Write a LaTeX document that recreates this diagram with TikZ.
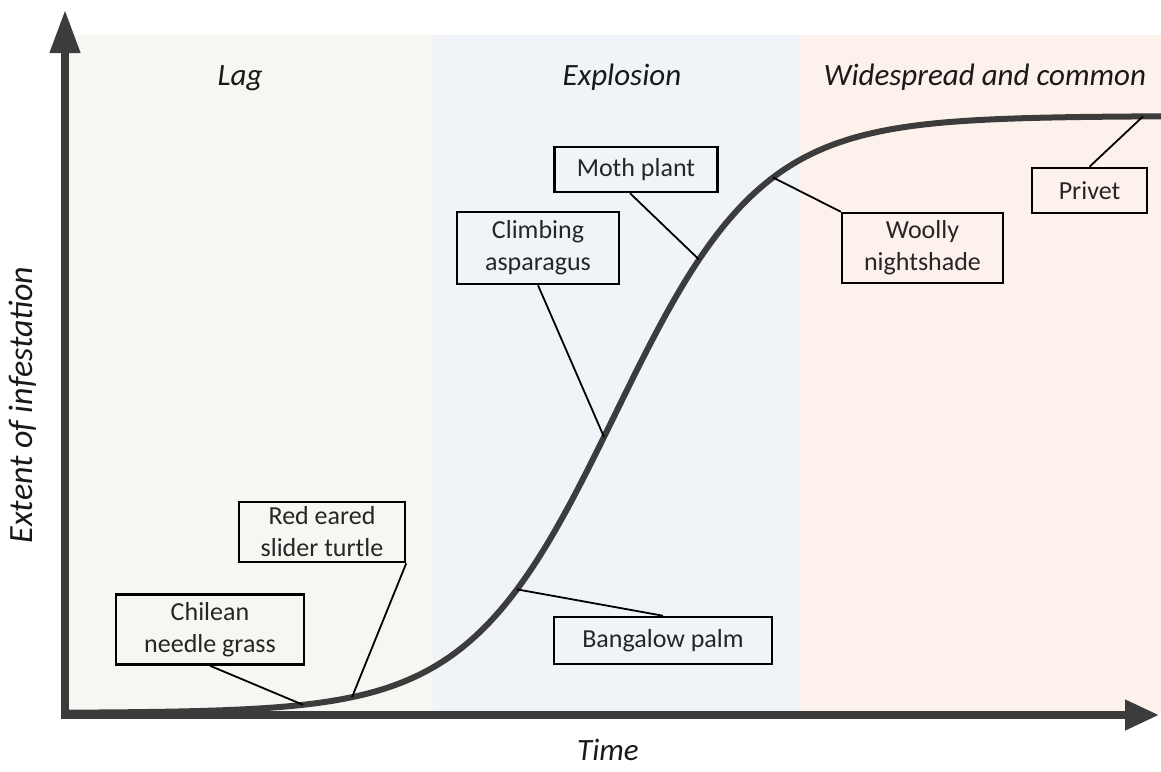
\documentclass[tikz,border=0pt]{standalone}
\usepackage{fontspec}
\setmainfont{Carlito}
\usetikzlibrary{arrows.meta}

\definecolor{lagbg}{HTML}{F6F7F2}
\definecolor{explbg}{HTML}{F0F4F9}
\definecolor{widebg}{HTML}{FCF1EB}
\definecolor{axisgrey}{HTML}{3C3C3C}

\begin{document}
\begin{tikzpicture} [
            x=1pt, y=-1pt,
            declare function = { infest(\x) = 713-597/(1+exp(-(\x-615)/73)); },
            phase/.style  = { font=\fontsize{31}{36}\selectfont\itshape,
                              text=black!90, anchor=base },
            species/.style = { rectangle, draw=black, line width=2.5pt,
                               font=\fontsize{26}{32}\selectfont, text=black!85,
                               align=center, inner sep=0pt },
            leader/.style = { draw, line width=1.8pt },
            axis/.style   = { draw=axisgrey, line width=7.5pt },
          ]
          \useasboundingbox (0,0) rectangle (1161,771);

          % phase bands
          \fill[lagbg]   (65,35)  rectangle (433,715);
          \fill[explbg]  (433,35) rectangle (800,715);
          \fill[widebg]  (800,35) rectangle (1161,715);

          \node (lag)  [phase] at (240,85) {Lag};
          \node (expl) [phase] at (622,85) {Explosion};
          \node (wide) [phase] at (985,85) {Widespread and common};

          % axes
          \draw [axis, -{Triangle[length=43pt, width=29pt]}] (65,718) -- (65,10);
          \draw [axis, -{Triangle[length=34pt, width=29pt]}] (61,715) -- (1159,715);
          \node (time) [phase] at (608,760) {Time};
          \node (extent) [phase, anchor=center, rotate=90, font=\fontsize{34}{40}\selectfont\itshape]
                at (23,405) {Extent of infestation};

          % infestation curve
          \draw [axisgrey, line width=6pt, line cap=round]
                plot [domain=65:1161, samples=220] (\x, {infest(\x)});

          \coordinate (onChil)  at (303, {infest(303)});
          \coordinate (onRed)   at (352, {infest(352)});
          \coordinate (onBang)  at (517, {infest(517)});
          \coordinate (onClimb) at (604, {infest(604)});
          \coordinate (onMoth)  at (699, {infest(699)});
          \coordinate (onWool)  at (773, {infest(773)});
          \coordinate (onPriv)  at (1143, {infest(1143)});

          \node (chil)  [species, minimum width=188pt, minimum height=70pt] at (210,629.5) {Chilean\\needle grass};
          \node (red)   [species, minimum width=166pt, minimum height=60pt] at (322,532) {Red eared\\slider turtle};
          \node (climb) [species, minimum width=162pt, minimum height=72pt] at (538,248) {Climbing\\asparagus};
          \node (moth)  [species, minimum width=163pt, minimum height=45pt] at (636,169.5) {Moth plant};
          \node (bang)  [species, minimum width=218pt, minimum height=47pt] at (663,640.5) {Bangalow palm};
          \node (wool)  [species, minimum width=161pt, minimum height=70pt] at (922.5,248) {Woolly\\nightshade};
          \node (priv)  [species, minimum width=115pt, minimum height=45pt] at (1089.5,190.5) {Privet};

          \draw [leader] (chil.south) -- (onChil);
          \draw [leader] (red.south east) -- (onRed);
          \draw [leader] (bang.north) -- (onBang);
          \draw [leader] (climb.south) -- (onClimb);
          \draw [leader] ([xshift=-6pt]moth.south) -- (onMoth);
          \draw [leader] (wool.north west) -- (onWool);
          \draw [leader] (priv.north) -- (onPriv);
\end{tikzpicture}
\end{document}
